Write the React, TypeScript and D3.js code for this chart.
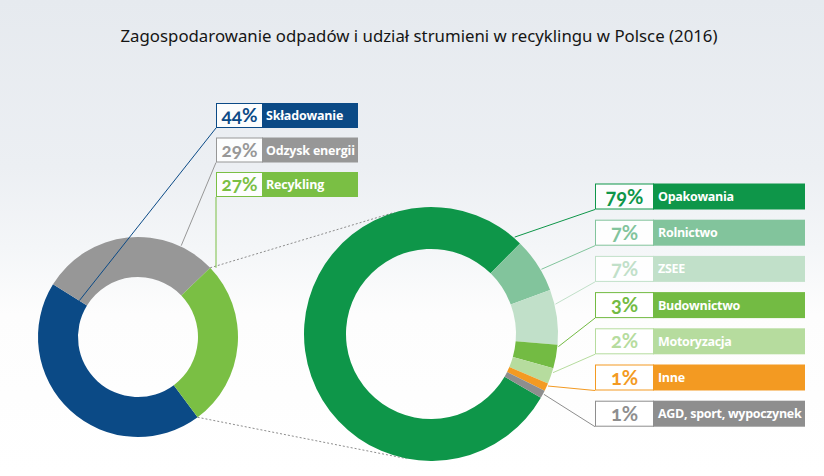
import React from 'react';
import * as d3 from 'd3';

// ---------- data ----------
const chartTitle = 'Zagospodarowanie odpadów i udział strumieni w recyklingu w Polsce (2016)';
const wasteCategories = ['Składowanie', 'Odzysk energii', 'Recykling'];
const wasteShares = [44, 29, 27];
const streamCategories = ['Opakowania', 'Rolnictwo', 'ZSEE', 'Budownictwo', 'Motoryzacja', 'Inne', 'AGD, sport, wypoczynek'];
const streamShares = [79, 7, 7, 3, 2, 1, 1];

// ---------- styles / layout ----------
const wasteColors = ['#0b4a86', '#979797', '#7abf44'];
const streamColors = ['#0e9649', '#82c49c', '#c1e0c9', '#73bb43', '#b6dc9e', '#f39a22', '#8e8e8e'];
const W = 824;
const H = 476;
const deg = Math.PI / 180;

const left = { cx: 138, cy: 337, R: 100, r: 60, start: 143.4 };
const right = { cx: 431, cy: 334, R: 127, r: 85, firstEnd: 44.5 };

const leftLegend = { x: 216, w1: 46, w2: 96, top: 103, pitch: 34.5, h: 25 };
const rightLegend = { x: 595, w1: 58, w2: 152, top: 183.5, pitch: 36.2, h: 26 };

// leader anchors: fraction along slice, radius mode
const leftAnchors = [
  { frac: 1.0, rad: 'inner' },
  { frac: 0.8, rad: 'outer' },
  { frac: 0.0, rad: 'vertical' },
];
const rightAnchorFrac = [0.987, 0.6, 0.27, 0.07, 0.26, 0.3, 0.45];

const pt = (cx: number, cy: number, rho: number, a: number) => [cx + rho * Math.sin(a), cy - rho * Math.cos(a)];

function tangentPoint(px: number, py: number, cx: number, cy: number, R: number, upper: boolean) {
  const dx = px - cx;
  const dy = py - cy;
  const d = Math.hypot(dx, dy);
  const theta = Math.atan2(dy, dx);
  const alpha = Math.acos(R / d);
  const a1 = theta + alpha;
  const a2 = theta - alpha;
  const p1 = [cx + R * Math.cos(a1), cy + R * Math.sin(a1)];
  const p2 = [cx + R * Math.cos(a2), cy + R * Math.sin(a2)];
  if (upper) return p1[1] < p2[1] ? p1 : p2;
  return p1[1] > p2[1] ? p1 : p2;
}

export default function App() {
  const leftPie = d3
    .pie<number>()
    .sort(null)
    .value((d) => d)
    .startAngle(left.start * deg)
    .endAngle(left.start * deg + 2 * Math.PI)(wasteShares);

  const total = d3.sum(streamShares);
  const rStart = right.firstEnd * deg - (streamShares[0] / total) * 2 * Math.PI;
  const rightPie = d3
    .pie<number>()
    .sort(null)
    .value((d) => d)
    .startAngle(rStart)
    .endAngle(rStart + 2 * Math.PI)(streamShares);

  const leftArc = d3.arc<d3.PieArcDatum<number>>().innerRadius(left.r).outerRadius(left.R);
  const rightArc = d3.arc<d3.PieArcDatum<number>>().innerRadius(right.r).outerRadius(right.R);

  // dashed connector lines (from Recykling slice edges tangent to right donut)
  const recy = leftPie[2];
  const pTop = pt(left.cx, left.cy, left.R, recy.startAngle);
  const pBot = pt(left.cx, left.cy, left.R, recy.endAngle);
  const tTop = tangentPoint(pTop[0], pTop[1], right.cx, right.cy, right.R, true);
  const tBot = tangentPoint(pBot[0], pBot[1], right.cx, right.cy, right.R, false);

  const fontPct = 'Lato, "Noto Sans", sans-serif';
  const fontLbl = '"Open Sans", "DejaVu Sans", sans-serif';

  return (
    <svg width={W} height={H} style={{ position: 'absolute', left: 0, top: 0 }} xmlns="http://www.w3.org/2000/svg">
      <defs>
        <linearGradient id="bg" x1="0" y1="0" x2="0" y2="1">
          <stop offset="0%" stopColor="#e6eaef" />
          <stop offset="35%" stopColor="#eceff3" />
          <stop offset="52%" stopColor="#f4f6f8" />
          <stop offset="66%" stopColor="#fdfdfd" />
          <stop offset="100%" stopColor="#ffffff" />
        </linearGradient>
      </defs>
      <rect x={0} y={0} width={W} height={H} fill="url(#bg)" />

      <text
        x={419}
        y={42}
        textAnchor="middle"
        fontFamily='"Noto Sans", "Open Sans", sans-serif'
        fontSize={17}
        fill="#151515"
        textLength={597}
        lengthAdjust="spacingAndGlyphs"
      >
        {chartTitle}
      </text>

      {/* dashed connectors */}
      <line x1={pTop[0]} y1={pTop[1]} x2={tTop[0]} y2={tTop[1]} stroke="#8d8d8d" strokeWidth={1} strokeDasharray="2,2" />
      <line x1={pBot[0]} y1={pBot[1]} x2={tBot[0]} y2={tBot[1]} stroke="#8d8d8d" strokeWidth={1} strokeDasharray="2,2" />

      {/* left donut */}
      <g transform={`translate(${left.cx},${left.cy})`}>
        {leftPie.map((d, i) => (
          <path key={i} d={leftArc(d) || ''} fill={wasteColors[i]} />
        ))}
      </g>

      {/* right donut */}
      <g transform={`translate(${right.cx},${right.cy})`}>
        {rightPie.map((d, i) => (
          <path key={i} d={rightArc(d) || ''} fill={streamColors[i]} />
        ))}
      </g>

      {/* left leaders */}
      {leftPie.map((d, i) => {
        const a = leftAnchors[i];
        const bx = leftLegend.x;
        const by = leftLegend.top + i * leftLegend.pitch + leftLegend.h;
        const ang = d.startAngle + a.frac * (d.endAngle - d.startAngle);
        if (a.rad === 'vertical') {
          const p = pt(left.cx, left.cy, left.R, ang);
          return <line key={i} x1={bx} y1={by} x2={bx} y2={p[1]} stroke={wasteColors[i]} strokeWidth={1} />;
        }
        const rho = a.rad === 'inner' ? left.r + 9 : left.R + 1;
        const p = pt(left.cx, left.cy, rho, ang);
        return <line key={i} x1={p[0]} y1={p[1]} x2={bx} y2={by} stroke={wasteColors[i]} strokeWidth={1} />;
      })}

      {/* right leaders */}
      {rightPie.map((d, i) => {
        const ang = d.startAngle + rightAnchorFrac[i] * (d.endAngle - d.startAngle);
        const p = pt(right.cx, right.cy, right.R + 1, ang);
        const bx = rightLegend.x;
        const by = rightLegend.top + i * rightLegend.pitch + rightLegend.h;
        return <line key={i} x1={p[0]} y1={p[1]} x2={bx} y2={by} stroke={streamColors[i]} strokeWidth={1} />;
      })}

      {/* left legend */}
      {wasteCategories.map((c, i) => {
        const L = leftLegend;
        const y = L.top + i * L.pitch;
        return (
          <g key={c}>
            <rect x={L.x + 0.5} y={y + 0.5} width={L.w1} height={L.h - 1} fill="#ffffff" fillOpacity={0.85} stroke={wasteColors[i]} strokeWidth={1} />
            <rect x={L.x + L.w1} y={y} width={L.w2} height={L.h} fill={wasteColors[i]} />
            <text
              x={L.x + L.w1 / 2 + 0.5}
              y={y + L.h / 2 + 6.5}
              textAnchor="middle"
              fontFamily={fontPct}
              fontWeight={700}
              fontSize={19}
              fill={wasteColors[i]}
              style={{ fontFeatureSettings: '"onum" 1', fontVariantNumeric: 'oldstyle-nums' }}
            >
              {wasteShares[i]}%
            </text>
            <text x={L.x + L.w1 + 4} y={y + L.h / 2 + 4.5} fontFamily={fontLbl} fontWeight={700} fontSize={12.5} fill="#ffffff" letterSpacing={-0.2}>
              {c}
            </text>
          </g>
        );
      })}

      {/* right legend */}
      {streamCategories.map((c, i) => {
        const L = rightLegend;
        const y = L.top + i * L.pitch;
        return (
          <g key={c}>
            <rect x={L.x + 0.5} y={y + 0.5} width={L.w1} height={L.h - 1} fill="#ffffff" fillOpacity={0.85} stroke={streamColors[i]} strokeWidth={1} />
            <rect x={L.x + L.w1} y={y} width={L.w2} height={L.h} fill={streamColors[i]} />
            <text
              x={L.x + L.w1 / 2 + 0.5}
              y={y + L.h / 2 + 7}
              textAnchor="middle"
              fontFamily={fontPct}
              fontWeight={700}
              fontSize={20}
              fill={streamColors[i]}
              style={{ fontFeatureSettings: '"onum" 1', fontVariantNumeric: 'oldstyle-nums' }}
            >
              {streamShares[i]}%
            </text>
            <text x={L.x + L.w1 + 5} y={y + L.h / 2 + 4.5} fontFamily={fontLbl} fontWeight={700} fontSize={12.5} fill="#ffffff" letterSpacing={-0.3}>
              {c}
            </text>
          </g>
        );
      })}
    </svg>
  );
}
